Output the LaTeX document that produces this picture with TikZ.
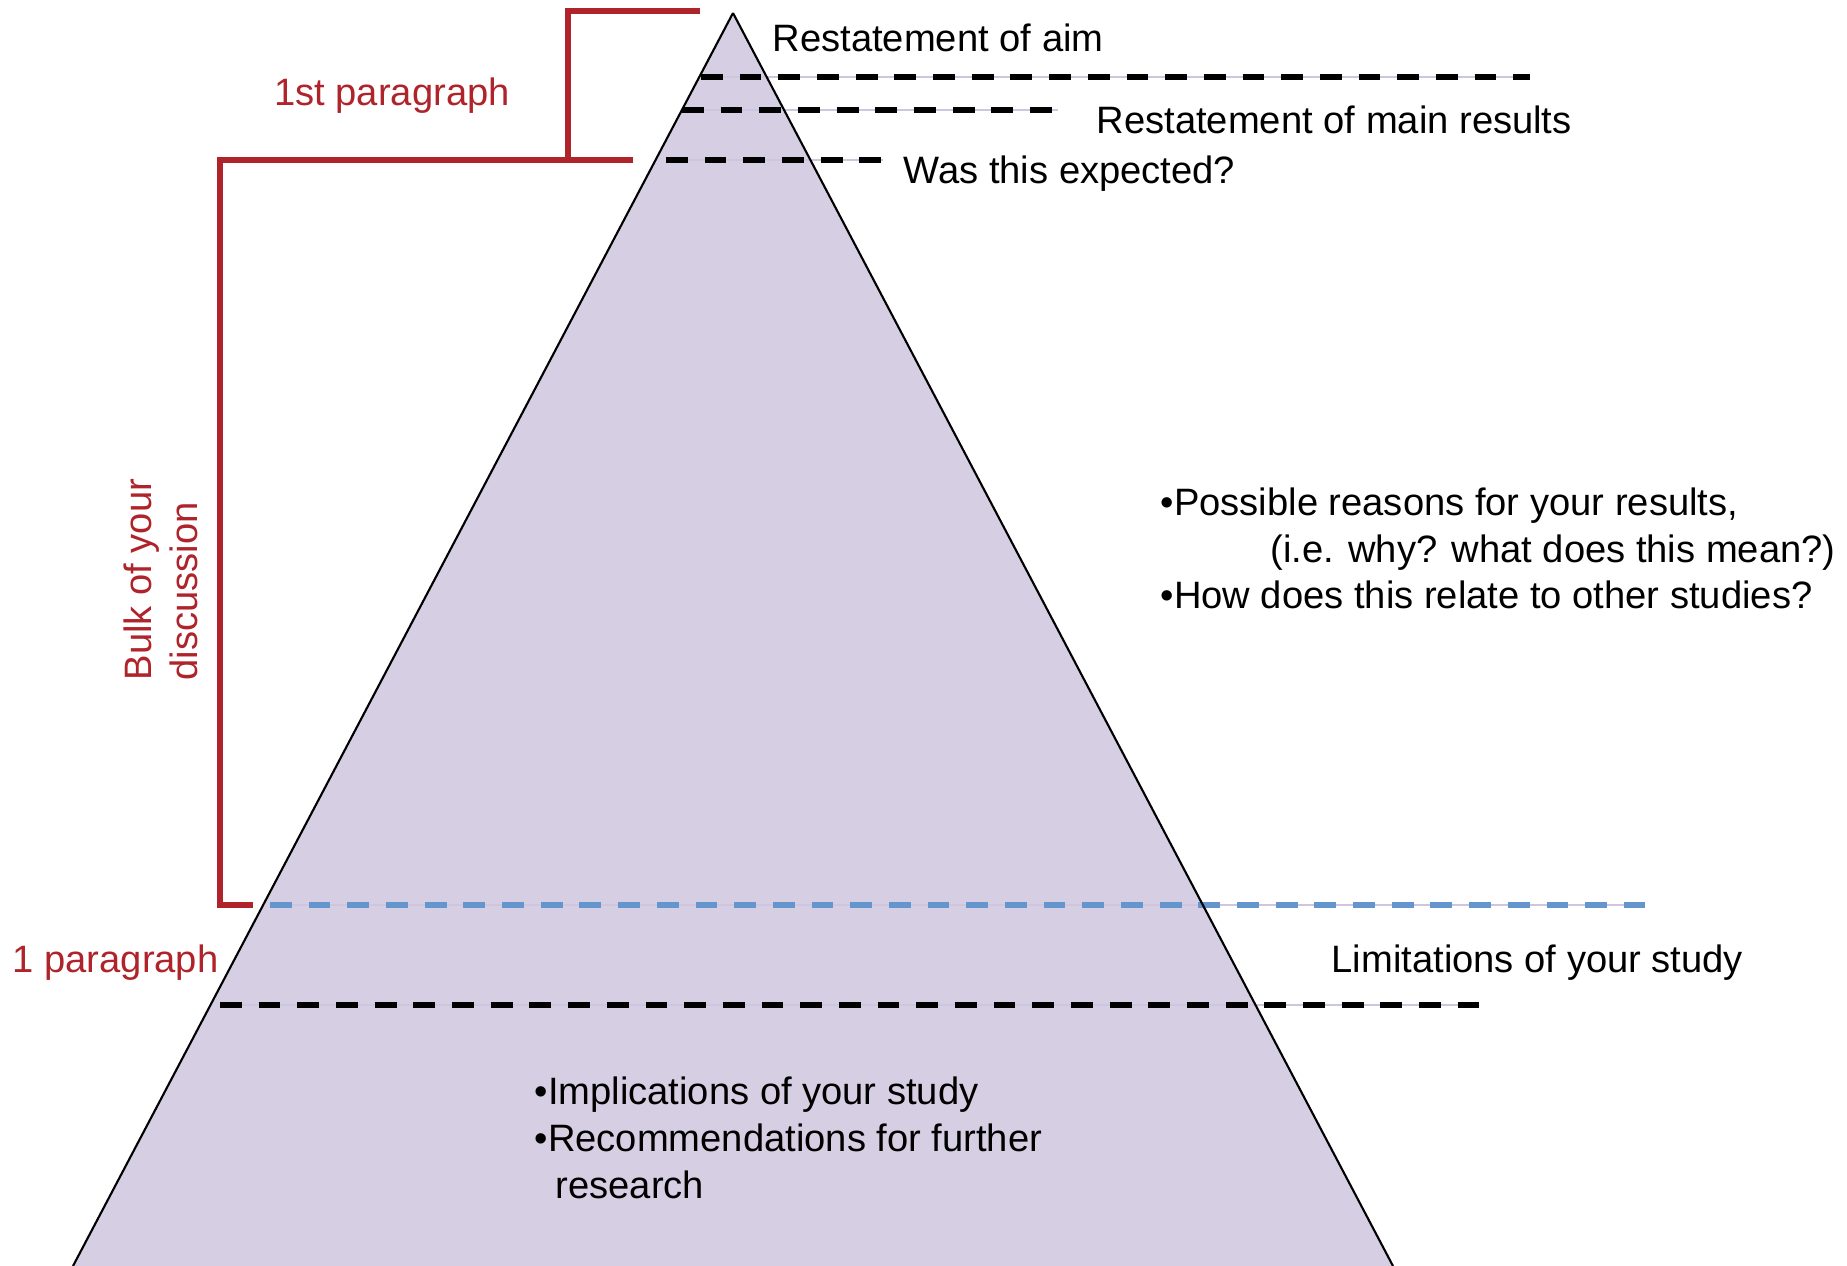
\documentclass[tikz,border=0pt]{standalone}
\usepackage{fontspec}
\setmainfont{Liberation Sans}
\usetikzlibrary{positioning}
\definecolor{pyramid}{RGB}{214,206,226}
\definecolor{bracketred}{RGB}{175,35,42}
\definecolor{limitblue}{RGB}{100,149,204}
\definecolor{gapline}{RGB}{205,198,222}
\begin{document}
\begin{tikzpicture}[x=0.01cm,y=-0.01cm,
    label text/.style={anchor=base west,inner sep=0pt,font=\fontsize{10.85}{13.3}\selectfont},
    red text/.style={label text,text=bracketred},
    bracket/.style={-,line width=1.6pt,draw=bracketred},
    cut line/.style={-,line width=1.45pt,dash pattern=on 6.2pt off 4.8pt},
    blue line/.style={cut line,draw=limitblue},
    gap line/.style={-,line width=0.3pt,draw=gapline}]
  \useasboundingbox (0,0) rectangle (1847,1266);
  % pyramid
  \coordinate (apex) at (733,13);
  \coordinate (baseL) at (73,1266);
  \coordinate (baseR) at (1393,1266);
  \fill[pyramid] (apex) -- (baseL) -- (baseR) -- cycle;
  % dashed cuts
  \coordinate (aimL) at (701,77);   \coordinate (aimR) at (1530,77);
  \coordinate (resL) at (682,110);  \coordinate (resR) at (1058,110);
  \coordinate (expL) at (666,160);  \coordinate (expR) at (883,160);
  \coordinate (bulkL) at (270,905); \coordinate (bulkR) at (1645,905);
  \coordinate (limL) at (220,1005); \coordinate (limR) at (1479,1005);
  \path[gap line] (aimL) edge (aimR);
  \path[gap line] (resL) edge (resR);
  \path[gap line] (expL) edge (expR);
  \path[gap line] (bulkL) edge (bulkR);
  \path[gap line] (limL) edge (limR);
  \path[cut line] (aimL) edge (aimR);
  \path[cut line] (resL) edge (resR);
  \path[cut line] (expL) edge (expR);
  \path[blue line] (bulkL) edge (bulkR);
  \path[cut line] (limL) edge (limR);
  \path[-,line width=0.6pt] (apex) edge (baseL);
  \path[-,line width=0.6pt] (apex) edge (baseR);
  % red brackets
  \coordinate (topR) at (700,11);  \coordinate (topL) at (568,11);
  \coordinate (midJ) at (568,160); \coordinate (midR) at (633,160);
  \coordinate (midL) at (220,160); \coordinate (lowL) at (220,905);
  \coordinate (lowR) at (253,905);
  \draw[bracket] (topR) -- (topL) -- (midJ);
  \draw[bracket] (midR) -- (midL) -- (lowL) -- (lowR);
  % labels
  \node[label text] (aim) at (772,51) {Restatement of aim};
  \node[label text] (results) at (1096,133) {Restatement of main results};
  \node[label text] (expected) at (903,183) {Was this expected?};
  \node[red text,anchor=base] (first) at (392,105) {1st paragraph};
  \node[red text,rotate=90] (bulk1) at (152,681) {Bulk of your};
  \node[red text,rotate=90] (bulk2) at (197,681) {discussion};
  \node[red text] (onepar) at (12,972) {1 paragraph};
  \node[label text] (limits) at (1331,972) {Limitations of your study};
  \node[label text] (reasons) at (1160,515) {\textbullet Possible reasons for your results,};
  \node[label text] (meaning) at (1270,562) {(i.e. why? what does this mean?)};
  \node[label text] (relate) at (1160,608) {\textbullet How does this relate to other studies?};
  \node[label text] (implic) at (534,1104) {\textbullet Implications of your study};
  \node[label text] (recomm) at (534,1151) {\textbullet Recommendations for further};
  \node[label text] (research) at (555,1198) {research};
\end{tikzpicture}
\end{document}
